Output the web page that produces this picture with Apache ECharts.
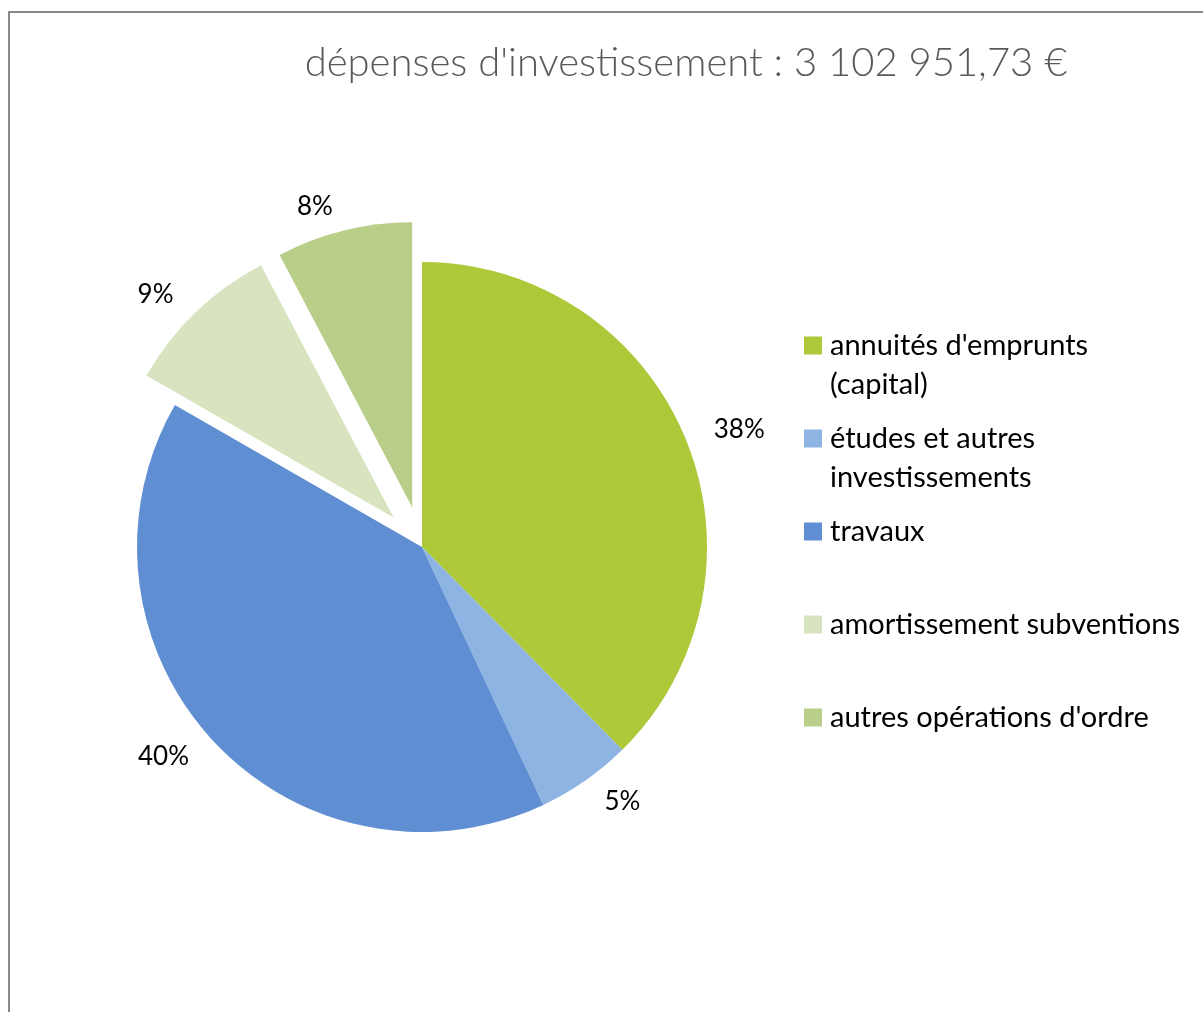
<!DOCTYPE html>
<html>
<head>
<meta charset="utf-8">
<title>dépenses d'investissement</title>
<script src="https://cdn.jsdelivr.net/npm/echarts@6/dist/echarts.min.js"></script>
<style>
  html, body { margin: 0; padding: 0; overflow: hidden; background: #fff; }
  #frame { position: absolute; left: 8px; top: 11px; width: 1400px; height: 1200px; border: 2px solid #888; }
  #main { position: absolute; left: 0; top: 0; width: 1203px; height: 1012px; }
</style>
</head>
<body>
<div id="frame"></div>
<div id="main"></div>
<script>
const titleText = 'dépenses d\'investissement : 3 102 951,73 €'
const categories = [
  'annuités d\'emprunts (capital)',
  'études et autres investissements',
  'travaux',
  'amortissement subventions',
  'autres opérations d\'ordre'
]
// lignes de la légende (retour à la ligne comme dans l'original)
const legendLines = [
  ['annuités d\'emprunts', '(capital)'],
  ['études et autres', 'investissements'],
  ['travaux'],
  ['amortissement subventions'],
  ['autres opérations d\'ordre']
]
const amounts = [1166710, 167560, 1250490, 279265, 238927]
const exploded = [false, false, false, true, true]
const colors = ['#adc93a', '#8eb4e3', '#5f8ed3', '#d8e4bf', '#b8ce89']

const bodyFont = 'Lato, "Open Sans", sans-serif'

const rich = {
  gap: { width: 8 },
  pad: { width: 26, lineHeight: 39 },
  txt: { fontSize: 29, lineHeight: 39, fontFamily: bodyFont, color: '#000' }
}
colors.forEach((c, i) => {
  rich['sq' + i] = { width: 18, height: 18, backgroundColor: c, lineHeight: 39 }
})

const myChart = echarts.init(document.getElementById('main'))
const option = {
  animation: false,
  title: {
    text: titleText,
    left: 686,
    top: 63,
    padding: 0,
    textAlign: 'center',
    textVerticalAlign: 'middle',
    textStyle: {
      fontFamily: 'Lato, sans-serif',
      fontWeight: 300,
      fontSize: 40,
      color: '#595959'
    }
  },
  legend: {
    orient: 'vertical',
    left: 799,
    top: 326,
    padding: 0,
    icon: 'none',
    itemWidth: 0,
    itemHeight: 10,
    itemGap: 15,
    data: categories,
    formatter: function (name) {
      const i = categories.indexOf(name)
      const l = legendLines[i]
      return '{sq' + i + '|}{gap|}{txt|' + l[0] + '}\n{pad|}{txt|' + (l[1] || ' ') + '}'
    },
    textStyle: { lineHeight: 39, rich: rich }
  },
  series: [
    {
      type: 'pie',
      center: [422, 547],
      radius: 285,
      startAngle: 90,
      clockwise: true,
      selectedMode: 'multiple',
      selectedOffset: 41,
      avoidLabelOverlap: false,
      itemStyle: { borderWidth: 0 },
      emphasis: { disabled: true },
      label: {
        position: 'outside',
        fontFamily: bodyFont,
        fontSize: 26,
        color: '#000',
        formatter: function (params) {
          return Math.round(params.percent) + '%'
        }
      },
      labelLine: { show: false, length: 25, length2: 0 },
      data: categories.map((name, i) => ({
        name: name,
        value: amounts[i],
        selected: exploded[i],
        itemStyle: { color: colors[i] }
      }))
    }
  ]
}
myChart.setOption(option)
</script>
</body>
</html>
